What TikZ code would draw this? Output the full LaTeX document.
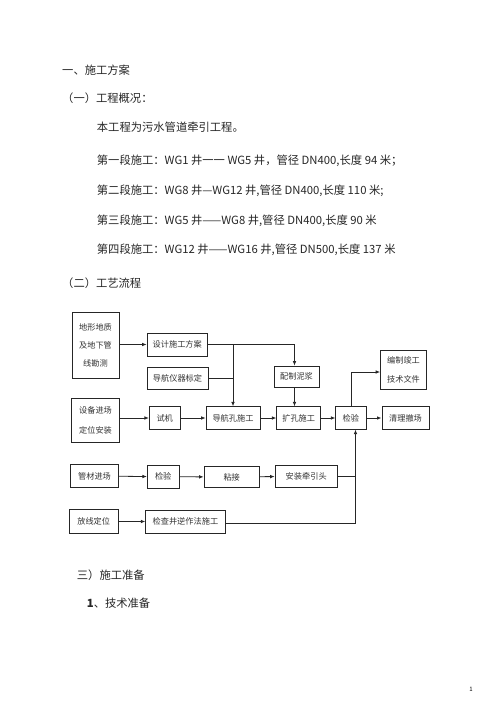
\documentclass[tikz,border=0pt]{standalone}
\usepackage{fontspec}
\setmainfont{Noto Sans CJK SC}
\usetikzlibrary{arrows.meta}
\begin{document}
\begin{tikzpicture}[x=1pt,y=-1pt,
  body/.style={anchor=west,inner sep=0pt,font=\fontsize{11.3}{13}\selectfont,text=black!85},
  bx/.style={draw=black!85,line width=0.8pt,rectangle,inner sep=0pt,align=center,
    font=\fontsize{8.2}{17.7}\selectfont,text=black!80},
  arr/.style={draw=black!85,line width=0.8pt,-{Latex[length=4.5pt,width=3.6pt]}},
  ln/.style={draw=black!85,line width=0.8pt}]
\useasboundingbox (0,0) rectangle (496,702);
\fill[white] (0,0) rectangle (496,702);
% body text
\node[body] (t1) at (62,70) {一、施工方案};
\node[body] (t2) at (62,98.5) {（一）工程概况：};
\node[body] (t3) at (96.7,127.5) {本工程为污水管道牵引工程。};
\node[body] (t4) at (96.7,161) {第一段施工：WG1 井一一 WG5 井，管径 DN400,长度 94 米；};
\node[body] (t5) at (96.7,191) {第二段施工：WG8 井—WG12 井,管径 DN400,长度 110 米;};
\node[body] (t6) at (96.7,220.5) {第三段施工：WG5 井——WG8 井,管径 DN400,长度 90 米};
\node[body] (t7) at (96.7,250) {第四段施工：WG12 井——WG16 井,管径 DN500,长度 137 米};
\node[body] (t8) at (62,283.5) {（二）工艺流程};
\node[body] (t9) at (76.7,575) {三）施工准备};
\node[body] (t10) at (86.7,603) {\textbf{1}、技术准备};
\node[inner sep=0pt,font=\fontsize{6}{7}\selectfont] (pg) at (471,689) {1};
% boxes
\node[bx,minimum width=47pt,minimum height=66pt] (A) at (95.5,345.5) {地形地质\\及地下管\\线勘测};
\node[bx,minimum width=60.5pt,minimum height=23pt] (B) at (177.25,344.5) {设计施工方案};
\node[bx,minimum width=61pt,minimum height=22pt] (C) at (177.5,378) {导航仪器标定};
\node[bx,minimum width=45pt,minimum height=21.3pt] (D) at (296.5,376.7) {配制泥浆};
\node[bx,minimum width=46pt,minimum height=39.7pt,font=\fontsize{8.2}{18.3}\selectfont] (E) at (403.5,369.8) {编制竣工\\技术文件};
\node[bx,minimum width=47.6pt,minimum height=44pt,font=\fontsize{8.2}{20}\selectfont] (F) at (95.5,420.3) {设备进场\\定位安装};
\node[bx,minimum width=30.7pt,minimum height=22.6pt] (G) at (164.7,418) {试机};
\node[bx,minimum width=54pt,minimum height=22.6pt] (H) at (233,418) {导航孔施工};
\node[bx,minimum width=44pt,minimum height=22.4pt] (I) at (298.7,418) {扩孔施工};
\node[bx,minimum width=30.3pt,minimum height=22.4pt] (J) at (350.9,418) {检验};
\node[bx,minimum width=47pt,minimum height=22.8pt,line width=1pt] (K) at (405.5,418) {清理撤场};
\node[bx,minimum width=47.6pt,minimum height=23.4pt] (L) at (94.5,476) {管材进场};
\node[bx,minimum width=31.7pt,minimum height=23.3pt] (M) at (163.2,476.7) {检验};
\node[bx,minimum width=55.3pt,minimum height=20.6pt] (N) at (231.7,477) {粘接};
\node[bx,minimum width=62.3pt,minimum height=22.3pt] (O) at (306.2,476.2) {安装牵引头};
\node[bx,minimum width=49.3pt,minimum height=24pt] (P) at (93.7,521.3) {放线定位};
\node[bx,minimum width=79.3pt,minimum height=23.3pt] (Q) at (185.4,521.7) {检查井逆作法施工};
% junctions
\coordinate (j1) at (233,344.5);
\coordinate (jD) at (294.5,344.5);
\coordinate (jK) at (355.5,523);
% connectors
\draw[arr] (A.east |- B.west) -- (B.west);
\draw[ln] (B.east) -- (jD);
\draw[arr] (jD) -- (jD |- D.north);
\draw[arr] (j1) -- (H.north);
\draw[ln] (C.east) -- (C.east -| j1);
\draw[arr] (jD |- D.south) -- (jD |- I.north);
\draw[arr] (F.east |- G.west) -- (G.west);
\draw[arr] (G) -- (H);
\draw[arr] (H) -- (I);
\draw[arr] (I) -- (J);
\draw[arr,line width=1pt] (J) -- (K);
\draw[arr] (J.north) -- (J.north |- 0,372) -- (E.west |- 0,372);
\draw[arr] (L) -- (M);
\draw[arr] (M) -- (N);
\draw[arr] (N) -- (O);
\draw[ln] (O.east) -- (O.east -| jK);
\draw[arr] (P) -- (Q);
\draw[ln] (Q.east |- jK) -- (jK);
\draw[arr] (jK) -- (jK |- J.south);
\end{tikzpicture}
\end{document}
